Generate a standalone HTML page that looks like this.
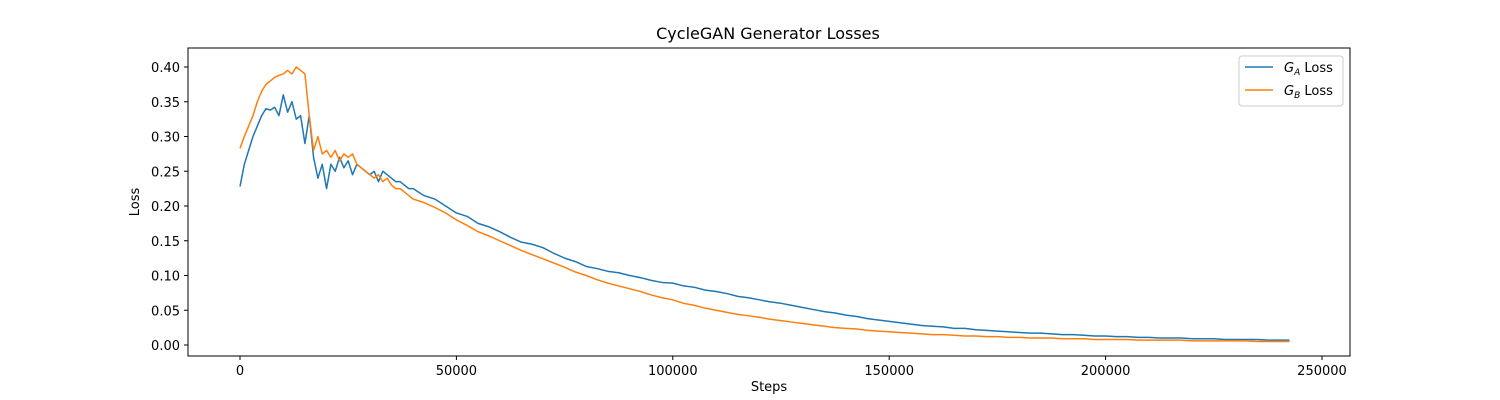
<!DOCTYPE html>
<html><head><meta charset="utf-8"><style>
html,body{margin:0;padding:0;background:#fff;}
svg{display:block;font-family:"DejaVu Sans","Liberation Sans",sans-serif;}
</style></head><body>
<svg id="chart" width="1500" height="400">
  <rect x="0" y="0" width="1500" height="400" fill="#fff"/>
  <text x="768" y="39" font-size="16" text-anchor="middle">CycleGAN Generator Losses</text>
  <g id="ticks"></g>
  <g id="lines"></g>
  <rect x="188" y="48" width="1162" height="308" fill="none" stroke="#000" stroke-width="1"/>
  <text x="769" y="391" font-size="13" text-anchor="middle">Steps</text>
  <text x="139" y="202" font-size="13" text-anchor="middle" transform="rotate(-90 139 202)">Loss</text>
  <g>
    <rect x="1239" y="56" width="104" height="50" rx="3" fill="#fff" stroke="#ccc"/>
    <line x1="1245" y1="67" x2="1273" y2="67" stroke="#1f77b4" stroke-width="1.5"/>
    <text x="1284" y="72" font-size="13"><tspan font-style="italic">G</tspan><tspan font-size="9" font-style="italic" dy="3">A</tspan><tspan dy="-3"> Loss</tspan></text>
    <line x1="1245" y1="90" x2="1273" y2="90" stroke="#ff7f0e" stroke-width="1.5"/>
    <text x="1284" y="95" font-size="13"><tspan font-style="italic">G</tspan><tspan font-size="9" font-style="italic" dy="3">B</tspan><tspan dy="-3"> Loss</tspan></text>
  </g>
</svg>
<script>
const xTicks = [0, 50000, 100000, 150000, 200000, 250000];
const yTicks = [0, 0.05, 0.10, 0.15, 0.20, 0.25, 0.30, 0.35, 0.40];
const stepsEarly = [0,1000,2000,3000,4000,5000,6000,7000,8000,9000,10000,11000,12000,13000,14000,15000,16000,17000,18000,19000,20000,21000,22000,23000,24000,25000,26000,27000,28000,29000,30000,31000,32000,33000,34000,35000,36000,37000,38000,39000,40000];
const stepsLate = [];
for (let s = 42500; s <= 242500; s += 2500) stepsLate.push(s);
const steps = stepsEarly.concat(stepsLate);
const lossA = [.228,.26,.28,.30,.315,.33,.34,.338,.342,.33,.36,.335,.35,.325,.33,.29,.33,.27,.24,.26,.225,.26,.25,.27,.255,.265,.245,.26,.255,.25,.245,.25,.235,.25,.245,.24,.235,.235,.23,.225,.225,
.215,.21,.20,.19,.185,.175,.17,.163,.155,.148,.145,.14,.132,.125,.12,.113,.11,.106,.104,.10,.097,.093,.09,.089,.085,.083,.079,.077,.074,.07,.068,.065,.062,.06,.057,.054,.051,.048,.046,.043,.041,.038,.036,.034,.032,.03,.028,.027,.026,.024,.024,.022,.021,.02,.019,.018,.017,.017,.016,.015,.015,.014,.013,.013,.012,.012,.011,.011,.01,.01,.01,.009,.009,.009,.008,.008,.008,.008,.007,.007,.007];
const lossB = [.283,.30,.315,.33,.35,.365,.375,.38,.385,.388,.39,.395,.39,.40,.395,.39,.33,.28,.30,.275,.28,.27,.28,.265,.275,.27,.275,.26,.255,.25,.245,.24,.245,.235,.24,.23,.225,.225,.22,.215,.21,
.205,.198,.19,.18,.172,.163,.157,.15,.143,.136,.13,.124,.118,.112,.105,.10,.094,.089,.085,.081,.077,.072,.068,.065,.06,.057,.053,.05,.047,.044,.042,.04,.037,.035,.033,.031,.029,.027,.025,.024,.023,.021,.02,.019,.018,.017,.016,.015,.015,.014,.013,.013,.012,.012,.011,.011,.01,.01,.01,.009,.009,.009,.008,.008,.008,.008,.007,.007,.007,.007,.007,.006,.006,.006,.006,.006,.006,.005,.005,.005,.005];

const X = s => 240 + s * 1082 / 250000;
const Y = v => 345 - v * 695;
const NS = 'http://www.w3.org/2000/svg';
const tg = document.getElementById('ticks');
xTicks.forEach(t => {
  const l = document.createElementNS(NS, 'line');
  l.setAttribute('x1', X(t)); l.setAttribute('x2', X(t));
  l.setAttribute('y1', 356); l.setAttribute('y2', 360);
  l.setAttribute('stroke', '#000');
  
  
  tg.appendChild(l);
  const tx = document.createElementNS(NS, 'text');
  tx.setAttribute('x', X(t)); tx.setAttribute('y', 375);
  tx.setAttribute('font-size', '13'); tx.setAttribute('text-anchor', 'middle');
  tx.textContent = String(t);
  
  
  tg.appendChild(tx);
});
yTicks.forEach(t => {
  const l = document.createElementNS(NS, 'line');
  l.setAttribute('x1', 184); l.setAttribute('x2', 188);
  l.setAttribute('y1', Y(t)); l.setAttribute('y2', Y(t));
  l.setAttribute('stroke', '#000');
  
  
  tg.appendChild(l);
  const tx = document.createElementNS(NS, 'text');
  tx.setAttribute('x', 180); tx.setAttribute('y', Y(t) + 5);
  tx.setAttribute('font-size', '13'); tx.setAttribute('text-anchor', 'end');
  tx.textContent = t.toFixed(2);
  
  
  tg.appendChild(tx);
});
const lg = document.getElementById('lines');
function drawLine(vals, color, name) {
  const p = document.createElementNS(NS, 'polyline');
  p.setAttribute('points', vals.map((v, i) => X(steps[i]) + ',' + Y(v)).join(' '));
  p.setAttribute('fill', 'none');
  p.setAttribute('stroke', color);
  p.setAttribute('stroke-width', '1.5');
  p.setAttribute('stroke-linejoin', 'round');
  
  
  lg.appendChild(p);
}
drawLine(lossA, '#1f77b4', 'ga-loss-line');
drawLine(lossB, '#ff7f0e', 'gb-loss-line');
</script>
</body></html>
